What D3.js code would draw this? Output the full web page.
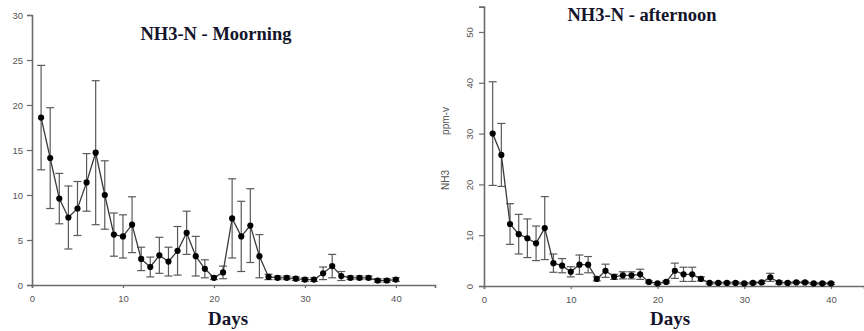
<!DOCTYPE html>
<html>
<head>
<meta charset="utf-8">
<script src="https://cdn.jsdelivr.net/npm/d3@7"></script>
<style>
  body { margin: 0; background: #fff; }
  svg { display: block; }
</style>
</head>
<body>
<svg width="864" height="331"></svg>
<script>
// Days of measurement
const days = d3.range(1, 41);

// NH3-N morning (mean and error)
const morningMean = [18.6, 14.1, 9.6, 7.5, 8.5, 11.4, 14.7, 10.0, 5.6, 5.4,
                     6.7, 2.9, 2.0, 3.3, 2.6, 3.8, 5.8, 3.2, 1.8, 0.8,
                     1.4, 7.4, 5.4, 6.6, 3.2, 0.9, 0.8, 0.8, 0.7, 0.6,
                     0.6, 1.3, 2.1, 1.0, 0.8, 0.8, 0.8, 0.5, 0.5, 0.6];
const morningErr = [5.8, 5.6, 2.8, 3.5, 3.0, 3.2, 8.0, 3.8, 2.4, 2.4,
                    3.1, 1.3, 1.1, 2.0, 1.6, 2.7, 2.4, 2.2, 1.0, 0.2,
                    0.7, 4.4, 3.9, 4.1, 2.4, 0.3, 0.2, 0.2, 0.2, 0.2,
                    0.2, 0.7, 1.3, 0.5, 0.2, 0.2, 0.2, 0.2, 0.2, 0.2];

// NH3-N afternoon (mean and error)
const afternoonMean = [30.0, 25.8, 12.2, 10.2, 9.4, 8.4, 11.4, 4.5, 4.0, 2.8,
                       4.2, 4.2, 1.4, 3.0, 1.8, 2.1, 2.1, 2.3, 0.8, 0.5,
                       0.8, 3.0, 2.3, 2.3, 1.4, 0.6, 0.6, 0.6, 0.6, 0.5,
                       0.6, 0.7, 1.7, 0.7, 0.6, 0.7, 0.7, 0.5, 0.5, 0.5];
const afternoonErr = [10.2, 6.2, 4.0, 3.9, 3.8, 3.4, 6.2, 1.8, 1.4, 1.0,
                      1.9, 1.6, 0.4, 1.3, 0.5, 0.7, 0.7, 1.0, 0.2, 0.2,
                      0.2, 1.5, 1.4, 1.4, 0.4, 0.2, 0.2, 0.2, 0.2, 0.2,
                      0.2, 0.2, 0.8, 0.3, 0.2, 0.2, 0.2, 0.2, 0.2, 0.2];

const xTicks = [0, 10, 20, 30, 40];
const morningTicks = [0, 5, 10, 15, 20, 25, 30];
const afternoonTicks = [0, 10, 20, 30, 40, 50];

const svg = d3.select("svg");

const axisColor = "#6b6b6b";
const tickText = "#555";

function drawPanel(opt) {
  const g = svg.append("g");
  const x = d3.scaleLinear().domain(opt.xDomain).range(opt.xRange);
  const y = d3.scaleLinear().domain(opt.yDomain).range(opt.yRange);
  const rows = days.map((d, i) => ({day: d, v: opt.mean[i], e: opt.err[i]}));

  // axes
  const xAxis = g.append("g")
    .attr("transform", `translate(0, ${opt.yRange[0]})`)
    .call(d3.axisBottom(x).tickValues(xTicks).tickSizeOuter(0).tickSize(3).tickPadding(7));
  const yAxis = g.append("g")
    .attr("transform", `translate(${opt.xRange[0]}, 0)`)
    .call(d3.axisLeft(y).tickValues(opt.yTicks).tickSizeOuter(0).tickSize(5).tickPadding(4));

  [xAxis, yAxis].forEach(a => {
    a.select(".domain").attr("stroke", axisColor).attr("stroke-width", 1.6);
    a.selectAll(".tick line").attr("stroke", axisColor).attr("stroke-width", 1.2);
    a.selectAll(".tick text")
      .attr("fill", tickText)
      .attr("font-family", "Liberation Sans, Arial, sans-serif")
      .attr("font-size", "9.5px");
  });

  if (opt.rotateY) {
    yAxis.selectAll(".tick text")
      .attr("text-anchor", "middle")
      .attr("x", 0).attr("dy", 0)
      .attr("transform", "translate(-14, 0) rotate(-90)")
      .attr("y", 3);
  }

  // error bars
  const eb = g.append("g").attr("stroke", "#5a5a5a").attr("stroke-width", 1.2).attr("fill", "none");
  eb.selectAll(".v").data(rows).join("line")
    .attr("x1", d => x(d.day)).attr("x2", d => x(d.day))
    .attr("y1", d => y(Math.max(0, d.v - d.e))).attr("y2", d => y(d.v + d.e));
  eb.selectAll(".top").data(rows).join("line")
    .attr("x1", d => x(d.day) - 4).attr("x2", d => x(d.day) + 4)
    .attr("y1", d => y(d.v + d.e)).attr("y2", d => y(d.v + d.e));
  eb.selectAll(".bot").data(rows).join("line")
    .attr("x1", d => x(d.day) - 4).attr("x2", d => x(d.day) + 4)
    .attr("y1", d => y(Math.max(0, d.v - d.e))).attr("y2", d => y(Math.max(0, d.v - d.e)));

  // mean line
  g.append("path")
    .datum(rows)
    .attr("fill", "none")
    .attr("stroke", "#3a3a3a")
    .attr("stroke-width", 1.3)
    .attr("d", d3.line().x(d => x(d.day)).y(d => y(d.v)));

  // markers
  g.selectAll(".pt").data(rows).join("path")
    .attr("transform", d => `translate(${x(d.day)}, ${y(d.v)})`)
    .attr("d", d3.symbol().type(d3.symbolCircle).size(30))
    .attr("fill", "#000");

  // title
  g.append("text")
    .attr("x", opt.titleX).attr("y", opt.titleY)
    .attr("text-anchor", "middle")
    .attr("font-family", "Liberation Serif, Times New Roman, serif")
    .attr("font-weight", "bold")
    .attr("font-size", "18.5px")
    .attr("fill", "#14142a")
    .text(opt.title);

  // x label
  g.append("text")
    .attr("x", opt.daysX).attr("y", 325)
    .attr("text-anchor", "middle")
    .attr("font-family", "Liberation Serif, Times New Roman, serif")
    .attr("font-weight", "bold")
    .attr("font-size", "19px")
    .attr("fill", "#14142a")
    .text("Days");
  return g;
}

drawPanel({
  mean: morningMean, err: morningErr,
  xDomain: [0, 44.3], xRange: [32, 435],
  yDomain: [0, 30], yRange: [285, 15],
  yTicks: morningTicks,
  title: "NH3-N - Moorning", titleX: 216, titleY: 40,
  daysX: 228
});

const right = drawPanel({
  mean: afternoonMean, err: afternoonErr,
  xDomain: [0, 43.8], xRange: [484, 864],
  yDomain: [0, 55], yRange: [286, 6.6],
  yTicks: afternoonTicks, rotateY: true,
  title: "NH3-N - afternoon", titleX: 642, titleY: 21,
  daysX: 670
});

// y label of afternoon panel
right.append("text")
  .attr("transform", "translate(449, 180) rotate(-90)")
  .attr("text-anchor", "middle")
  .attr("font-family", "Liberation Sans, Arial, sans-serif")
  .attr("font-size", "10px")
  .attr("fill", "#555")
  .text("NH3");
right.append("text")
  .attr("transform", "translate(449, 121) rotate(-90)")
  .attr("text-anchor", "middle")
  .attr("font-family", "Liberation Sans, Arial, sans-serif")
  .attr("font-size", "10px")
  .attr("fill", "#555")
  .text("ppm-v");
</script>
</body>
</html>
